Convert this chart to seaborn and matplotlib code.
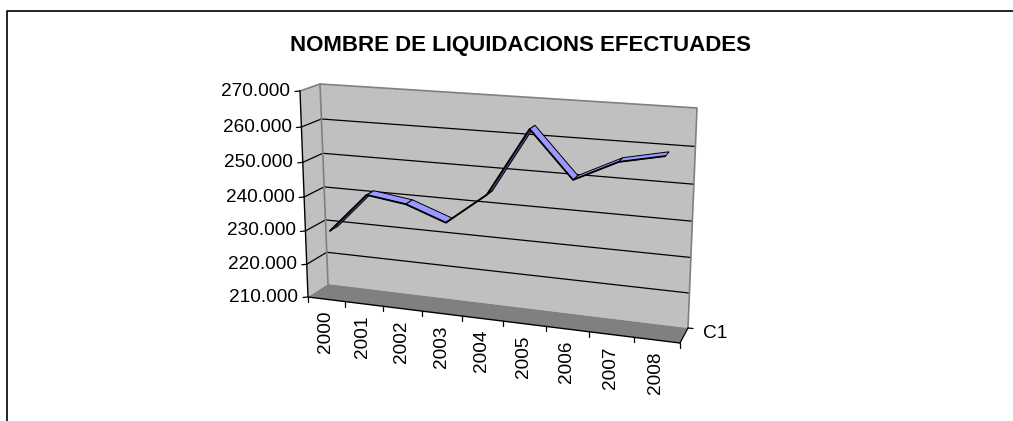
import numpy as np
import pandas as pd
import seaborn as sns
import matplotlib
matplotlib.use("Agg")
import matplotlib.pyplot as plt
from matplotlib.patches import Polygon
from matplotlib.transforms import Transform

years = ["2000", "2001", "2002", "2003", "2004", "2005", "2006", "2007", "2008"]
liquidacions = [229600, 241300, 239700, 235500, 244500, 263400, 250700, 256500, 259000]
y_ticks = [210000, 220000, 230000, 240000, 250000, 260000, 270000]
y_labels = ["210.000", "220.000", "230.000", "240.000", "250.000", "260.000", "270.000"]
title = "NOMBRE DE LIQUIDACIONS EFECTUADES"
series_name = "C1"

# corners of the fake 3d box in pixels, (front, back) for each of the 4 wall corners
W, H = 1013, 421
box = {
    "bl": ((308, 297), (328, 284)),
    "br": ((680, 343), (688, 328)),
    "tl": ((300, 91), (320, 84)),
    "tr": ((688, 118), (697, 108)),
}
y_min, y_max = 210000, 270000
n = len(years)
persp_x = 1.13
persp_y = 1.06


def project(x, v, d):
    #x in category units, v the value, d the depth 0=front 1=back
    u = np.asarray(x, dtype=float) / n
    u = u / (u + persp_x * (1 - u))
    t = (np.asarray(v, dtype=float) - y_min) / (y_max - y_min)
    t = t / (t + persp_y * (1 - t))
    d = np.asarray(d, dtype=float)
    out = []
    for k in range(2):
        c = {key: box[key][0][k] * (1 - d) + box[key][1][k] * d for key in box}
        bottom = c["bl"] * (1 - u) + c["br"] * u
        top = c["tl"] * (1 - u) + c["tr"] * u
        out.append(bottom * (1 - t) + top * t)
    return out[0], out[1]


class BoxTransform(Transform):
    input_dims = 2
    output_dims = 2

    def __init__(self, box_depth):
        super().__init__()
        self.box_depth = box_depth

    def transform_non_affine(self, values):
        px, py = project(values[:, 0], values[:, 1], self.box_depth)
        return np.column_stack([px, py])

    def transform(self, values):
        return self.transform_non_affine(np.asarray(values, dtype=float))


sns.set_theme(style="white")
plt.rcParams["font.family"] = ["Liberation Sans", "DejaVu Sans"]

fig = plt.figure(figsize=(W / 100, H / 100), dpi=100)
ax = fig.add_axes([0, 0, 1, 1])
ax.set_axis_off()
ax.set_xlim(0, W)
ax.set_ylim(H, 0)

#outer frame, only left and top edge are in the crop
ax.plot([6.5, 6.5, W], [H, 11, 11], color="black", lw=1.2)


def face(pts, color, z=1):
    px, py = project(*zip(*pts))
    ax.add_patch(Polygon(np.column_stack([px, py]), closed=True, facecolor=color, edgecolor="none", zorder=z))


#walls and floor
face([(0, y_min, 1), (n, y_min, 1), (n, y_max, 1), (0, y_max, 1)], "#C0C0C0")
face([(0, y_min, 0), (0, y_min, 1), (0, y_max, 1), (0, y_max, 0)], "#C0C0C0")
face([(0, y_min, 0), (n, y_min, 0), (n, y_min, 1), (0, y_min, 1)], "#808080")

for tick in y_ticks[1:-1]:
    px, py = project([0, 0, n], [tick] * 3, [0, 1, 1])
    ax.plot(px, py, color="black", lw=0.9, zorder=2)

#grey edges of the back wall
px, py = project([0, 0, n, n], [y_max, y_max, y_max, y_min], [0, 1, 1, 1])
ax.plot(px, py, color="#808080", lw=1.2, zorder=2)
px, py = project([0, 0], [y_min, y_max], [1, 1])
ax.plot(px, py, color="#808080", lw=1.2, zorder=2)

#axis lines and ticks
px, py = project([0, 0, n], [y_max, y_min, y_min], [0, 0, 0])
ax.plot(px, py, color="black", lw=1.0, zorder=3)
for tick, label in zip(y_ticks, y_labels):
    px, py = project(0, tick, 0)
    ax.plot([px - 5, px], [py + 0.5, py], color="black", lw=0.9, zorder=3)
    ax.text(px - 9.5, py, label, ha="right", va="center", fontsize=13.7, color="black")

for i in range(n + 1):
    px, py = project(i, y_min, 0)
    ax.plot([px, px], [py, py + 5], color="black", lw=0.9, zorder=3)
for i, label in enumerate(years):
    px, py = project(i + 0.5, y_min, 0)
    ax.text(px - 1, py + 11.5, label, rotation=90, ha="center", va="top", fontsize=13.7, color="black")

#depth axis going to the series name
px, py = project([n, n], [y_min, y_min], [0, 1])
ax.plot(px, py, color="black", lw=0.9, zorder=3)
ax.plot([px[1], px[1] + 5], [py[1], py[1] + 0.5], color="black", lw=0.9, zorder=3)
ax.text(703, 334, series_name, ha="left", va="center", fontsize=13.7, color="black")

ax.text(520, 45.5, title, ha="center", va="center", fontsize=16, fontweight="bold", color="black")

#ribbon: one polygon per segment, colour depends on which side faces the viewer
df = pd.DataFrame({"pos": np.arange(n) + 0.5, "value": liquidacions})
d_front, d_back = 0.3, 0.7
for i in range(n - 1):
    xs = df["pos"].iloc[[i, i + 1, i + 1, i]]
    vs = df["value"].iloc[[i, i + 1, i + 1, i]]
    px, py = project(xs, vs, [d_front, d_front, d_back, d_back])
    pts = np.column_stack([px, py])
    a = pts[1] - pts[0]
    b = pts[3] - pts[0]
    upper = a[0] * b[1] - a[1] * b[0] < 0
    ax.add_patch(Polygon(pts, closed=True, facecolor="#9999FF" if upper else "#4D4D80",
                         edgecolor="black", lw=0.7, zorder=4))

#front edge of the ribbon
sns.lineplot(data=df, x="pos", y="value", ax=ax, color="black", lw=1.3, zorder=5,
             transform=BoxTransform(d_front) + ax.transData, legend=False, errorbar=None)
ax.set_xlim(0, W)
ax.set_ylim(H, 0)
ax.set_axis_off()

fig.savefig("out.png", dpi=100)
